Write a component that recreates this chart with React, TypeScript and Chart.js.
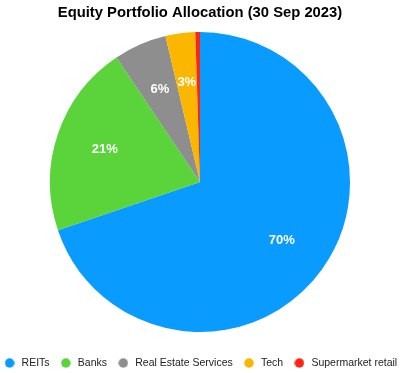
import React, { useEffect, useRef } from "react";
import { Chart, registerables } from "chart.js";

Chart.register(...registerables);

const categories = ["REITs", "Banks", "Real Estate Services", "Tech", "Supermarket retail"];
const values = [69.8, 20.8, 5.7, 3.2, 0.5];
const labels = ["70%", "21%", "6%", "3%", ""];
const colors = ["#0A9BFF", "#5AD43A", "#8E8E8E", "#FBB700", "#FF2311"];
const titleText = "Equity Portfolio Allocation (30 Sep 2023)";

const FONT = "'Liberation Sans', Arial, Helvetica, sans-serif";

const sliceLabelPlugin = {
  id: "sliceLabels",
  afterDatasetsDraw(chart: any) {
    const ctx = chart.ctx;
    const meta = chart.getDatasetMeta(0);
    ctx.save();
    ctx.fillStyle = "#ffffff";
    ctx.font = "bold 13px " + FONT;
    ctx.textAlign = "center";
    ctx.textBaseline = "middle";
    meta.data.forEach((arc: any, i: number) => {
      const t = labels[i];
      if (!t) return;
      const { x, y, startAngle, endAngle, outerRadius } = arc.getProps(
        ["x", "y", "startAngle", "endAngle", "outerRadius"],
        true
      );
      const mid = (startAngle + endAngle) / 2;
      const r = outerRadius * 0.67;
      ctx.fillText(t, x + Math.cos(mid) * r, y + Math.sin(mid) * r);
    });
    ctx.restore();
  },
};

function makeDot(color: string) {
  const c = document.createElement("canvas");
  c.width = 10;
  c.height = 10;
  const g = c.getContext("2d");
  if (g) {
    g.fillStyle = color;
    g.beginPath();
    g.arc(5, 5, 4.75, 0, Math.PI * 2);
    g.fill();
  }
  return c;
}

export default function App() {
  const ref = useRef<HTMLCanvasElement | null>(null);
  useEffect(() => {
    if (!ref.current) return;
    const dots = colors.map(makeDot);
    const baseGen =
      (Chart as any).overrides?.doughnut?.plugins?.legend?.labels?.generateLabels ||
      (Chart as any).overrides?.pie?.plugins?.legend?.labels?.generateLabels;
    const chart = new Chart(ref.current, {
      type: "pie",
      data: {
        labels: categories,
        datasets: [
          {
            data: values,
            backgroundColor: colors,
            borderWidth: 0,
          },
        ],
      },
      options: {
        animation: false,
        responsive: false,
        layout: { padding: { top: 0, bottom: -5.25, left: -10, right: -10 } },
        plugins: {
          title: {
            display: true,
            text: titleText,
            color: "#000000",
            font: { size: 14.8, weight: "bold", family: FONT, lineHeight: 1.2 },
            padding: { top: 4, bottom: 10.24 },
          },
          legend: {
            position: "bottom",
            title: {
              display: true,
              text: "",
              font: { size: 10, lineHeight: 1.625 },
              padding: 0,
            },
            labels: {
              usePointStyle: true,
              pointStyle: "circle",
              pointStyleWidth: 13.5,
              boxWidth: 13.5,
              boxHeight: 6.7,
              padding: 9.5,
              color: "#222222",
              font: { size: 10.5, family: FONT },
              generateLabels: (c: any) => {
                const items = baseGen ? baseGen(c) : [];
                return items.map((it: any, i: number) => ({ ...it, pointStyle: dots[i] }));
              },
            },
          },
          tooltip: { enabled: false },
        },
      },
      plugins: [sliceLabelPlugin],
    });
    return () => chart.destroy();
  }, []);
  return (
    <div style={{ position: "fixed", left: 0, top: 0, width: 400, height: 373, background: "#fff" }}>
      <canvas ref={ref} width={400} height={373} />
    </div>
  );
}
